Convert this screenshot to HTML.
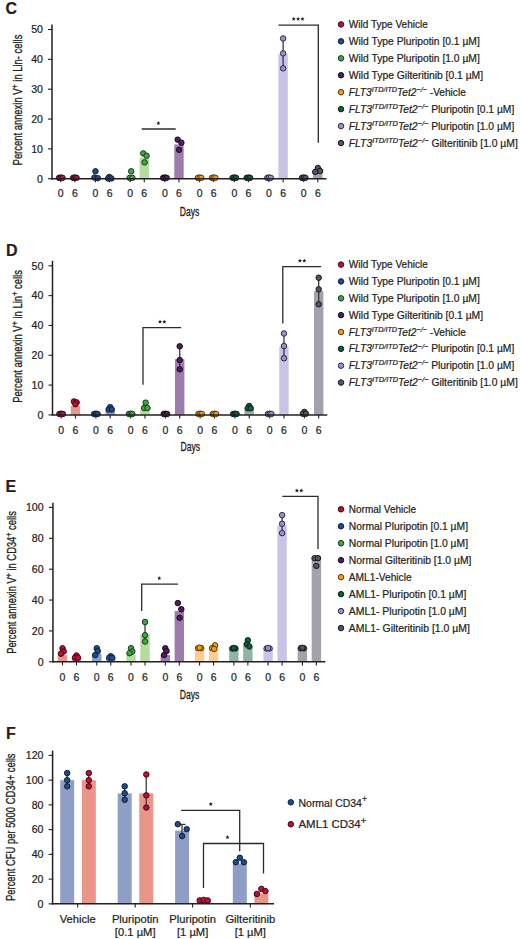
<!DOCTYPE html>
<html><head><meta charset="utf-8"><style>
html,body{margin:0;padding:0;background:#fff;}
svg{display:block;font-family:"Liberation Sans", sans-serif;fill:#231f20;}
text{stroke:#231f20;stroke-width:0.22px;}
text.cd{stroke-width:0.32px;}
</style></head><body>
<svg width="520" height="939" viewBox="0 0 520 939" font-family='"Liberation Sans", sans-serif' fill="#231f20">
<rect width="520" height="939" fill="#fff"/>
<text x="5.60" y="14.20" font-size="16" text-anchor="start" font-weight="bold" font-style="normal" >C</text>
<rect x="56.05" y="178.15" width="9.4" height="0.60" fill="#e8968b"/>
<rect x="70.15" y="178.15" width="9.4" height="0.60" fill="#e8968b"/>
<rect x="90.76" y="177.85" width="9.4" height="0.90" fill="#8d9ec5"/>
<rect x="104.86" y="177.85" width="9.4" height="0.90" fill="#8d9ec5"/>
<rect x="125.47" y="177.85" width="9.4" height="0.90" fill="#b5dba0"/>
<rect x="139.57" y="157.41" width="9.4" height="21.34" fill="#b5dba0"/>
<rect x="160.18" y="178.15" width="9.4" height="0.60" fill="#9d7bad"/>
<rect x="174.28" y="144.42" width="9.4" height="34.33" fill="#9d7bad"/>
<rect x="194.89" y="178.15" width="9.4" height="0.60" fill="#fbcd93"/>
<rect x="208.99" y="178.15" width="9.4" height="0.60" fill="#fbcd93"/>
<rect x="229.60" y="178.15" width="9.4" height="0.60" fill="#93b3a3"/>
<rect x="243.70" y="178.15" width="9.4" height="0.60" fill="#93b3a3"/>
<rect x="264.31" y="178.15" width="9.4" height="0.60" fill="#c8c4e6"/>
<rect x="278.41" y="54.28" width="9.4" height="124.47" fill="#c8c4e6"/>
<rect x="299.02" y="178.15" width="9.4" height="0.60" fill="#a2a2ad"/>
<rect x="313.12" y="172.78" width="9.4" height="5.97" fill="#a2a2ad"/>
<line x1="60.75" y1="178.75" x2="60.75" y2="182.35" stroke="#231f20" stroke-width="1.1"/>
<line x1="74.85" y1="178.75" x2="74.85" y2="182.35" stroke="#231f20" stroke-width="1.1"/>
<line x1="95.46" y1="178.75" x2="95.46" y2="182.35" stroke="#231f20" stroke-width="1.1"/>
<line x1="109.56" y1="178.75" x2="109.56" y2="182.35" stroke="#231f20" stroke-width="1.1"/>
<line x1="130.17" y1="178.75" x2="130.17" y2="182.35" stroke="#231f20" stroke-width="1.1"/>
<line x1="144.27" y1="178.75" x2="144.27" y2="182.35" stroke="#231f20" stroke-width="1.1"/>
<line x1="164.88" y1="178.75" x2="164.88" y2="182.35" stroke="#231f20" stroke-width="1.1"/>
<line x1="178.98" y1="178.75" x2="178.98" y2="182.35" stroke="#231f20" stroke-width="1.1"/>
<line x1="199.59" y1="178.75" x2="199.59" y2="182.35" stroke="#231f20" stroke-width="1.1"/>
<line x1="213.69" y1="178.75" x2="213.69" y2="182.35" stroke="#231f20" stroke-width="1.1"/>
<line x1="234.30" y1="178.75" x2="234.30" y2="182.35" stroke="#231f20" stroke-width="1.1"/>
<line x1="248.40" y1="178.75" x2="248.40" y2="182.35" stroke="#231f20" stroke-width="1.1"/>
<line x1="269.01" y1="178.75" x2="269.01" y2="182.35" stroke="#231f20" stroke-width="1.1"/>
<line x1="283.11" y1="178.75" x2="283.11" y2="182.35" stroke="#231f20" stroke-width="1.1"/>
<line x1="303.72" y1="178.75" x2="303.72" y2="182.35" stroke="#231f20" stroke-width="1.1"/>
<line x1="317.82" y1="178.75" x2="317.82" y2="182.35" stroke="#231f20" stroke-width="1.1"/>
<line x1="283.11" y1="68.31" x2="283.11" y2="38.46" stroke="#3a3a3a" stroke-width="1.3"/>
<circle cx="59.05" cy="177.85" r="2.75" fill="#b8123b" stroke="#3a0812" stroke-width="1.0"/>
<circle cx="60.75" cy="177.56" r="2.75" fill="#b8123b" stroke="#3a0812" stroke-width="1.0"/>
<circle cx="62.45" cy="177.85" r="2.75" fill="#b8123b" stroke="#3a0812" stroke-width="1.0"/>
<circle cx="73.15" cy="177.85" r="2.75" fill="#b8123b" stroke="#3a0812" stroke-width="1.0"/>
<circle cx="74.85" cy="177.56" r="2.75" fill="#b8123b" stroke="#3a0812" stroke-width="1.0"/>
<circle cx="76.55" cy="177.85" r="2.75" fill="#b8123b" stroke="#3a0812" stroke-width="1.0"/>
<circle cx="95.46" cy="171.29" r="2.75" fill="#1f4c86" stroke="#0d1f38" stroke-width="1.0"/>
<circle cx="94.46" cy="177.56" r="2.75" fill="#1f4c86" stroke="#0d1f38" stroke-width="1.0"/>
<circle cx="97.76" cy="178.15" r="2.75" fill="#1f4c86" stroke="#0d1f38" stroke-width="1.0"/>
<circle cx="109.36" cy="176.96" r="2.75" fill="#1f4c86" stroke="#0d1f38" stroke-width="1.0"/>
<circle cx="108.06" cy="178.45" r="2.75" fill="#1f4c86" stroke="#0d1f38" stroke-width="1.0"/>
<circle cx="111.36" cy="178.45" r="2.75" fill="#1f4c86" stroke="#0d1f38" stroke-width="1.0"/>
<circle cx="131.17" cy="171.29" r="2.75" fill="#43a446" stroke="#143a16" stroke-width="1.0"/>
<circle cx="129.67" cy="177.85" r="2.75" fill="#43a446" stroke="#143a16" stroke-width="1.0"/>
<circle cx="132.37" cy="177.85" r="2.75" fill="#43a446" stroke="#143a16" stroke-width="1.0"/>
<circle cx="143.27" cy="153.38" r="2.75" fill="#43a446" stroke="#143a16" stroke-width="1.0"/>
<circle cx="146.57" cy="155.77" r="2.75" fill="#43a446" stroke="#143a16" stroke-width="1.0"/>
<circle cx="144.57" cy="162.33" r="2.75" fill="#43a446" stroke="#143a16" stroke-width="1.0"/>
<circle cx="163.18" cy="177.85" r="2.75" fill="#4b1f57" stroke="#1e0a24" stroke-width="1.0"/>
<circle cx="164.88" cy="177.56" r="2.75" fill="#4b1f57" stroke="#1e0a24" stroke-width="1.0"/>
<circle cx="166.58" cy="177.85" r="2.75" fill="#4b1f57" stroke="#1e0a24" stroke-width="1.0"/>
<circle cx="177.68" cy="139.65" r="2.75" fill="#4b1f57" stroke="#1e0a24" stroke-width="1.0"/>
<circle cx="181.38" cy="142.63" r="2.75" fill="#4b1f57" stroke="#1e0a24" stroke-width="1.0"/>
<circle cx="179.08" cy="149.80" r="2.75" fill="#4b1f57" stroke="#1e0a24" stroke-width="1.0"/>
<circle cx="197.89" cy="177.85" r="2.75" fill="#f29c1c" stroke="#5a3a08" stroke-width="1.0"/>
<circle cx="199.59" cy="177.56" r="2.75" fill="#f29c1c" stroke="#5a3a08" stroke-width="1.0"/>
<circle cx="201.29" cy="177.85" r="2.75" fill="#f29c1c" stroke="#5a3a08" stroke-width="1.0"/>
<circle cx="211.99" cy="177.85" r="2.75" fill="#f29c1c" stroke="#5a3a08" stroke-width="1.0"/>
<circle cx="213.69" cy="177.56" r="2.75" fill="#f29c1c" stroke="#5a3a08" stroke-width="1.0"/>
<circle cx="215.39" cy="177.85" r="2.75" fill="#f29c1c" stroke="#5a3a08" stroke-width="1.0"/>
<circle cx="232.60" cy="177.85" r="2.75" fill="#17583f" stroke="#08261a" stroke-width="1.0"/>
<circle cx="234.30" cy="177.56" r="2.75" fill="#17583f" stroke="#08261a" stroke-width="1.0"/>
<circle cx="236.00" cy="177.85" r="2.75" fill="#17583f" stroke="#08261a" stroke-width="1.0"/>
<circle cx="246.70" cy="177.85" r="2.75" fill="#17583f" stroke="#08261a" stroke-width="1.0"/>
<circle cx="248.40" cy="177.56" r="2.75" fill="#17583f" stroke="#08261a" stroke-width="1.0"/>
<circle cx="250.10" cy="177.85" r="2.75" fill="#17583f" stroke="#08261a" stroke-width="1.0"/>
<circle cx="267.31" cy="177.85" r="2.75" fill="#9893c6" stroke="#2c2850" stroke-width="1.0"/>
<circle cx="269.01" cy="177.56" r="2.75" fill="#9893c6" stroke="#2c2850" stroke-width="1.0"/>
<circle cx="270.71" cy="177.85" r="2.75" fill="#9893c6" stroke="#2c2850" stroke-width="1.0"/>
<circle cx="283.11" cy="38.46" r="2.75" fill="#9893c6" stroke="#2c2850" stroke-width="1.0"/>
<circle cx="283.11" cy="53.38" r="2.75" fill="#9893c6" stroke="#2c2850" stroke-width="1.0"/>
<circle cx="283.11" cy="68.31" r="2.75" fill="#9893c6" stroke="#2c2850" stroke-width="1.0"/>
<circle cx="302.02" cy="177.85" r="2.75" fill="#555562" stroke="#16161c" stroke-width="1.0"/>
<circle cx="303.72" cy="177.56" r="2.75" fill="#555562" stroke="#16161c" stroke-width="1.0"/>
<circle cx="305.42" cy="177.85" r="2.75" fill="#555562" stroke="#16161c" stroke-width="1.0"/>
<circle cx="317.82" cy="168.00" r="2.75" fill="#555562" stroke="#16161c" stroke-width="1.0"/>
<circle cx="315.22" cy="171.88" r="2.75" fill="#555562" stroke="#16161c" stroke-width="1.0"/>
<circle cx="320.12" cy="170.99" r="2.75" fill="#555562" stroke="#16161c" stroke-width="1.0"/>
<line x1="52.00" y1="24.60" x2="52.00" y2="179.45" stroke="#231f20" stroke-width="1.5"/>
<line x1="51.30" y1="178.75" x2="326.50" y2="178.75" stroke="#231f20" stroke-width="1.5"/>
<line x1="48.00" y1="178.75" x2="52.00" y2="178.75" stroke="#231f20" stroke-width="1.1"/>
<text x="43.00" y="182.50" font-size="10.6" text-anchor="end" font-weight="normal" font-style="normal" >0</text>
<line x1="48.00" y1="148.90" x2="52.00" y2="148.90" stroke="#231f20" stroke-width="1.1"/>
<text x="43.00" y="152.65" font-size="10.6" text-anchor="end" font-weight="normal" font-style="normal" >10</text>
<line x1="48.00" y1="119.05" x2="52.00" y2="119.05" stroke="#231f20" stroke-width="1.1"/>
<text x="43.00" y="122.80" font-size="10.6" text-anchor="end" font-weight="normal" font-style="normal" >20</text>
<line x1="48.00" y1="89.20" x2="52.00" y2="89.20" stroke="#231f20" stroke-width="1.1"/>
<text x="43.00" y="92.95" font-size="10.6" text-anchor="end" font-weight="normal" font-style="normal" >30</text>
<line x1="48.00" y1="59.35" x2="52.00" y2="59.35" stroke="#231f20" stroke-width="1.1"/>
<text x="43.00" y="63.10" font-size="10.6" text-anchor="end" font-weight="normal" font-style="normal" >40</text>
<line x1="48.00" y1="29.50" x2="52.00" y2="29.50" stroke="#231f20" stroke-width="1.1"/>
<text x="43.00" y="33.25" font-size="10.6" text-anchor="end" font-weight="normal" font-style="normal" >50</text>
<text x="60.75" y="197.40" font-size="10.5" text-anchor="middle" font-weight="normal" font-style="normal" >0</text>
<text x="74.85" y="197.40" font-size="10.5" text-anchor="middle" font-weight="normal" font-style="normal" >6</text>
<text x="95.46" y="197.40" font-size="10.5" text-anchor="middle" font-weight="normal" font-style="normal" >0</text>
<text x="109.56" y="197.40" font-size="10.5" text-anchor="middle" font-weight="normal" font-style="normal" >6</text>
<text x="130.17" y="197.40" font-size="10.5" text-anchor="middle" font-weight="normal" font-style="normal" >0</text>
<text x="144.27" y="197.40" font-size="10.5" text-anchor="middle" font-weight="normal" font-style="normal" >6</text>
<text x="164.88" y="197.40" font-size="10.5" text-anchor="middle" font-weight="normal" font-style="normal" >0</text>
<text x="178.98" y="197.40" font-size="10.5" text-anchor="middle" font-weight="normal" font-style="normal" >6</text>
<text x="199.59" y="197.40" font-size="10.5" text-anchor="middle" font-weight="normal" font-style="normal" >0</text>
<text x="213.69" y="197.40" font-size="10.5" text-anchor="middle" font-weight="normal" font-style="normal" >6</text>
<text x="234.30" y="197.40" font-size="10.5" text-anchor="middle" font-weight="normal" font-style="normal" >0</text>
<text x="248.40" y="197.40" font-size="10.5" text-anchor="middle" font-weight="normal" font-style="normal" >6</text>
<text x="269.01" y="197.40" font-size="10.5" text-anchor="middle" font-weight="normal" font-style="normal" >0</text>
<text x="283.11" y="197.40" font-size="10.5" text-anchor="middle" font-weight="normal" font-style="normal" >6</text>
<text x="303.72" y="197.40" font-size="10.5" text-anchor="middle" font-weight="normal" font-style="normal" >0</text>
<text x="317.82" y="197.40" font-size="10.5" text-anchor="middle" font-weight="normal" font-style="normal" >6</text>
<text class="cd" x="189.50" y="216.10" font-size="12.5" text-anchor="middle" textLength="19.5" lengthAdjust="spacingAndGlyphs">Days</text>
<text class="cd" transform="translate(21.50,100.00) rotate(-90)" x="0" y="0" font-size="12.5" text-anchor="middle" textLength="130.8" lengthAdjust="spacingAndGlyphs">Percent annexin V<tspan font-size="9.5" dy="-4">+</tspan><tspan dy="4"> in Lin- cells</tspan></text>
<polyline points="141.75,129.00 175.75,129.00" fill="none" stroke="#2b2b2b" stroke-width="1.3"/>
<polygon points="158.40,121.10 158.96,122.53 160.49,122.62 159.30,123.59 159.69,125.08 158.40,124.25 157.11,125.08 157.50,123.59 156.31,122.62 157.84,122.53" fill="#1a1a1a"/>
<polyline points="278.50,25.10 318.30,25.10 318.30,142.70" fill="none" stroke="#2b2b2b" stroke-width="1.3"/>
<polygon points="293.70,16.80 294.26,18.23 295.79,18.32 294.60,19.29 294.99,20.78 293.70,19.95 292.41,20.78 292.80,19.29 291.61,18.32 293.14,18.23" fill="#1a1a1a"/>
<polygon points="298.10,16.80 298.66,18.23 300.19,18.32 299.00,19.29 299.39,20.78 298.10,19.95 296.81,20.78 297.20,19.29 296.01,18.32 297.54,18.23" fill="#1a1a1a"/>
<polygon points="302.50,16.80 303.06,18.23 304.59,18.32 303.40,19.29 303.79,20.78 302.50,19.95 301.21,20.78 301.60,19.29 300.41,18.32 301.94,18.23" fill="#1a1a1a"/>
<circle cx="341.00" cy="24.40" r="2.75" fill="#b8123b" stroke="#3a0812" stroke-width="1.0"/>
<text x="348.80" y="27.90" font-size="10.3" textLength="79" lengthAdjust="spacingAndGlyphs">Wild Type Vehicle</text>
<circle cx="341.00" cy="41.35" r="2.75" fill="#1f4c86" stroke="#0d1f38" stroke-width="1.0"/>
<text x="348.80" y="44.85" font-size="10.3" textLength="131" lengthAdjust="spacingAndGlyphs">Wild Type Pluripotin [0.1 µM]</text>
<circle cx="341.00" cy="58.30" r="2.75" fill="#43a446" stroke="#143a16" stroke-width="1.0"/>
<text x="348.80" y="61.80" font-size="10.3" textLength="131" lengthAdjust="spacingAndGlyphs">Wild Type Pluripotin [1.0 µM]</text>
<circle cx="341.00" cy="75.25" r="2.75" fill="#4b1f57" stroke="#1e0a24" stroke-width="1.0"/>
<text x="348.80" y="78.75" font-size="10.3" textLength="134.3" lengthAdjust="spacingAndGlyphs">Wild Type Gilteritinib [0.1 µM]</text>
<circle cx="341.00" cy="92.20" r="2.75" fill="#f29c1c" stroke="#5a3a08" stroke-width="1.0"/>
<text x="348.80" y="95.70" font-size="10.3" textLength="117" lengthAdjust="spacingAndGlyphs"><tspan font-style="italic">FLT3</tspan><tspan font-style="italic" font-size="7.4" dy="-3.8">ITD/ITD</tspan><tspan font-style="italic" dy="3.8">Tet2</tspan><tspan font-style="italic" font-size="7.4" dy="-3.8">−/−</tspan><tspan dy="3.8"> -Vehicle</tspan></text>
<circle cx="341.00" cy="109.15" r="2.75" fill="#17583f" stroke="#08261a" stroke-width="1.0"/>
<text x="348.80" y="112.65" font-size="10.3" textLength="165.5" lengthAdjust="spacingAndGlyphs"><tspan font-style="italic">FLT3</tspan><tspan font-style="italic" font-size="7.4" dy="-3.8">ITD/ITD</tspan><tspan font-style="italic" dy="3.8">Tet2</tspan><tspan font-style="italic" font-size="7.4" dy="-3.8">−/−</tspan><tspan dy="3.8"> Pluripotin [0.1 µM]</tspan></text>
<circle cx="341.00" cy="126.10" r="2.75" fill="#9893c6" stroke="#2c2850" stroke-width="1.0"/>
<text x="348.80" y="129.60" font-size="10.3" textLength="165.5" lengthAdjust="spacingAndGlyphs"><tspan font-style="italic">FLT3</tspan><tspan font-style="italic" font-size="7.4" dy="-3.8">ITD/ITD</tspan><tspan font-style="italic" dy="3.8">Tet2</tspan><tspan font-style="italic" font-size="7.4" dy="-3.8">−/−</tspan><tspan dy="3.8"> Pluripotin [1.0 µM]</tspan></text>
<circle cx="341.00" cy="143.05" r="2.75" fill="#555562" stroke="#16161c" stroke-width="1.0"/>
<text x="348.80" y="146.55" font-size="10.3" textLength="169" lengthAdjust="spacingAndGlyphs"><tspan font-style="italic">FLT3</tspan><tspan font-style="italic" font-size="7.4" dy="-3.8">ITD/ITD</tspan><tspan font-style="italic" dy="3.8">Tet2</tspan><tspan font-style="italic" font-size="7.4" dy="-3.8">−/−</tspan><tspan dy="3.8"> Gilteritinib [1.0 µM]</tspan></text>
<text x="5.90" y="256.00" font-size="16" text-anchor="start" font-weight="bold" font-style="normal" >D</text>
<rect x="56.45" y="414.30" width="9.4" height="0.60" fill="#e8968b"/>
<rect x="70.75" y="405.95" width="9.4" height="8.95" fill="#e8968b"/>
<rect x="91.20" y="414.30" width="9.4" height="0.60" fill="#8d9ec5"/>
<rect x="105.50" y="410.73" width="9.4" height="4.17" fill="#8d9ec5"/>
<rect x="125.95" y="414.01" width="9.4" height="0.89" fill="#b5dba0"/>
<rect x="140.25" y="410.13" width="9.4" height="4.77" fill="#b5dba0"/>
<rect x="160.70" y="414.30" width="9.4" height="0.60" fill="#9d7bad"/>
<rect x="175.00" y="359.14" width="9.4" height="55.76" fill="#9d7bad"/>
<rect x="195.45" y="414.30" width="9.4" height="0.60" fill="#fbcd93"/>
<rect x="209.75" y="414.01" width="9.4" height="0.89" fill="#fbcd93"/>
<rect x="230.20" y="414.30" width="9.4" height="0.60" fill="#93b3a3"/>
<rect x="244.50" y="408.94" width="9.4" height="5.96" fill="#93b3a3"/>
<rect x="264.95" y="414.30" width="9.4" height="0.60" fill="#c8c4e6"/>
<rect x="279.25" y="346.61" width="9.4" height="68.29" fill="#c8c4e6"/>
<rect x="299.70" y="414.01" width="9.4" height="0.89" fill="#a2a2ad"/>
<rect x="314.00" y="291.15" width="9.4" height="123.75" fill="#a2a2ad"/>
<line x1="61.15" y1="414.90" x2="61.15" y2="418.50" stroke="#231f20" stroke-width="1.1"/>
<line x1="75.45" y1="414.90" x2="75.45" y2="418.50" stroke="#231f20" stroke-width="1.1"/>
<line x1="95.90" y1="414.90" x2="95.90" y2="418.50" stroke="#231f20" stroke-width="1.1"/>
<line x1="110.20" y1="414.90" x2="110.20" y2="418.50" stroke="#231f20" stroke-width="1.1"/>
<line x1="130.65" y1="414.90" x2="130.65" y2="418.50" stroke="#231f20" stroke-width="1.1"/>
<line x1="144.95" y1="414.90" x2="144.95" y2="418.50" stroke="#231f20" stroke-width="1.1"/>
<line x1="165.40" y1="414.90" x2="165.40" y2="418.50" stroke="#231f20" stroke-width="1.1"/>
<line x1="179.70" y1="414.90" x2="179.70" y2="418.50" stroke="#231f20" stroke-width="1.1"/>
<line x1="200.15" y1="414.90" x2="200.15" y2="418.50" stroke="#231f20" stroke-width="1.1"/>
<line x1="214.45" y1="414.90" x2="214.45" y2="418.50" stroke="#231f20" stroke-width="1.1"/>
<line x1="234.90" y1="414.90" x2="234.90" y2="418.50" stroke="#231f20" stroke-width="1.1"/>
<line x1="249.20" y1="414.90" x2="249.20" y2="418.50" stroke="#231f20" stroke-width="1.1"/>
<line x1="269.65" y1="414.90" x2="269.65" y2="418.50" stroke="#231f20" stroke-width="1.1"/>
<line x1="283.95" y1="414.90" x2="283.95" y2="418.50" stroke="#231f20" stroke-width="1.1"/>
<line x1="304.40" y1="414.90" x2="304.40" y2="418.50" stroke="#231f20" stroke-width="1.1"/>
<line x1="318.70" y1="414.90" x2="318.70" y2="418.50" stroke="#231f20" stroke-width="1.1"/>
<line x1="179.70" y1="369.28" x2="179.70" y2="346.31" stroke="#3a3a3a" stroke-width="1.3"/>
<line x1="283.95" y1="358.24" x2="283.95" y2="333.49" stroke="#3a3a3a" stroke-width="1.3"/>
<line x1="318.70" y1="304.27" x2="318.70" y2="277.73" stroke="#3a3a3a" stroke-width="1.3"/>
<circle cx="59.45" cy="414.01" r="2.75" fill="#b8123b" stroke="#3a0812" stroke-width="1.0"/>
<circle cx="61.15" cy="413.71" r="2.75" fill="#b8123b" stroke="#3a0812" stroke-width="1.0"/>
<circle cx="62.85" cy="414.01" r="2.75" fill="#b8123b" stroke="#3a0812" stroke-width="1.0"/>
<circle cx="73.95" cy="401.48" r="2.75" fill="#b8123b" stroke="#3a0812" stroke-width="1.0"/>
<circle cx="76.65" cy="402.38" r="2.75" fill="#b8123b" stroke="#3a0812" stroke-width="1.0"/>
<circle cx="75.45" cy="404.16" r="2.75" fill="#b8123b" stroke="#3a0812" stroke-width="1.0"/>
<circle cx="94.20" cy="414.01" r="2.75" fill="#1f4c86" stroke="#0d1f38" stroke-width="1.0"/>
<circle cx="95.90" cy="413.71" r="2.75" fill="#1f4c86" stroke="#0d1f38" stroke-width="1.0"/>
<circle cx="97.60" cy="414.01" r="2.75" fill="#1f4c86" stroke="#0d1f38" stroke-width="1.0"/>
<circle cx="110.20" cy="407.15" r="2.75" fill="#1f4c86" stroke="#0d1f38" stroke-width="1.0"/>
<circle cx="108.60" cy="409.53" r="2.75" fill="#1f4c86" stroke="#0d1f38" stroke-width="1.0"/>
<circle cx="111.80" cy="409.53" r="2.75" fill="#1f4c86" stroke="#0d1f38" stroke-width="1.0"/>
<circle cx="128.95" cy="414.01" r="2.75" fill="#43a446" stroke="#143a16" stroke-width="1.0"/>
<circle cx="130.65" cy="413.71" r="2.75" fill="#43a446" stroke="#143a16" stroke-width="1.0"/>
<circle cx="132.35" cy="414.01" r="2.75" fill="#43a446" stroke="#143a16" stroke-width="1.0"/>
<circle cx="145.65" cy="402.67" r="2.75" fill="#43a446" stroke="#143a16" stroke-width="1.0"/>
<circle cx="144.15" cy="408.04" r="2.75" fill="#43a446" stroke="#143a16" stroke-width="1.0"/>
<circle cx="147.45" cy="408.04" r="2.75" fill="#43a446" stroke="#143a16" stroke-width="1.0"/>
<circle cx="163.70" cy="414.01" r="2.75" fill="#4b1f57" stroke="#1e0a24" stroke-width="1.0"/>
<circle cx="165.40" cy="413.71" r="2.75" fill="#4b1f57" stroke="#1e0a24" stroke-width="1.0"/>
<circle cx="167.10" cy="414.01" r="2.75" fill="#4b1f57" stroke="#1e0a24" stroke-width="1.0"/>
<circle cx="179.70" cy="346.31" r="2.75" fill="#4b1f57" stroke="#1e0a24" stroke-width="1.0"/>
<circle cx="179.70" cy="360.03" r="2.75" fill="#4b1f57" stroke="#1e0a24" stroke-width="1.0"/>
<circle cx="179.70" cy="369.28" r="2.75" fill="#4b1f57" stroke="#1e0a24" stroke-width="1.0"/>
<circle cx="198.45" cy="414.01" r="2.75" fill="#f29c1c" stroke="#5a3a08" stroke-width="1.0"/>
<circle cx="200.15" cy="413.71" r="2.75" fill="#f29c1c" stroke="#5a3a08" stroke-width="1.0"/>
<circle cx="201.85" cy="414.01" r="2.75" fill="#f29c1c" stroke="#5a3a08" stroke-width="1.0"/>
<circle cx="212.75" cy="414.01" r="2.75" fill="#f29c1c" stroke="#5a3a08" stroke-width="1.0"/>
<circle cx="214.45" cy="413.71" r="2.75" fill="#f29c1c" stroke="#5a3a08" stroke-width="1.0"/>
<circle cx="216.15" cy="414.01" r="2.75" fill="#f29c1c" stroke="#5a3a08" stroke-width="1.0"/>
<circle cx="233.20" cy="414.01" r="2.75" fill="#17583f" stroke="#08261a" stroke-width="1.0"/>
<circle cx="234.90" cy="413.71" r="2.75" fill="#17583f" stroke="#08261a" stroke-width="1.0"/>
<circle cx="236.60" cy="414.01" r="2.75" fill="#17583f" stroke="#08261a" stroke-width="1.0"/>
<circle cx="249.20" cy="405.95" r="2.75" fill="#17583f" stroke="#08261a" stroke-width="1.0"/>
<circle cx="247.70" cy="408.34" r="2.75" fill="#17583f" stroke="#08261a" stroke-width="1.0"/>
<circle cx="250.70" cy="408.34" r="2.75" fill="#17583f" stroke="#08261a" stroke-width="1.0"/>
<circle cx="267.95" cy="414.01" r="2.75" fill="#9893c6" stroke="#2c2850" stroke-width="1.0"/>
<circle cx="269.65" cy="413.71" r="2.75" fill="#9893c6" stroke="#2c2850" stroke-width="1.0"/>
<circle cx="271.35" cy="414.01" r="2.75" fill="#9893c6" stroke="#2c2850" stroke-width="1.0"/>
<circle cx="283.95" cy="333.49" r="2.75" fill="#9893c6" stroke="#2c2850" stroke-width="1.0"/>
<circle cx="283.95" cy="346.02" r="2.75" fill="#9893c6" stroke="#2c2850" stroke-width="1.0"/>
<circle cx="283.95" cy="358.24" r="2.75" fill="#9893c6" stroke="#2c2850" stroke-width="1.0"/>
<circle cx="304.40" cy="411.92" r="2.75" fill="#555562" stroke="#16161c" stroke-width="1.0"/>
<circle cx="302.90" cy="413.71" r="2.75" fill="#555562" stroke="#16161c" stroke-width="1.0"/>
<circle cx="305.90" cy="413.71" r="2.75" fill="#555562" stroke="#16161c" stroke-width="1.0"/>
<circle cx="318.70" cy="277.73" r="2.75" fill="#555562" stroke="#16161c" stroke-width="1.0"/>
<circle cx="318.70" cy="289.36" r="2.75" fill="#555562" stroke="#16161c" stroke-width="1.0"/>
<circle cx="318.70" cy="304.27" r="2.75" fill="#555562" stroke="#16161c" stroke-width="1.0"/>
<line x1="52.50" y1="260.80" x2="52.50" y2="415.60" stroke="#231f20" stroke-width="1.5"/>
<line x1="51.80" y1="414.90" x2="327.30" y2="414.90" stroke="#231f20" stroke-width="1.5"/>
<line x1="48.50" y1="414.90" x2="52.50" y2="414.90" stroke="#231f20" stroke-width="1.1"/>
<text x="43.40" y="418.65" font-size="10.6" text-anchor="end" font-weight="normal" font-style="normal" >0</text>
<line x1="48.50" y1="385.08" x2="52.50" y2="385.08" stroke="#231f20" stroke-width="1.1"/>
<text x="43.40" y="388.83" font-size="10.6" text-anchor="end" font-weight="normal" font-style="normal" >10</text>
<line x1="48.50" y1="355.26" x2="52.50" y2="355.26" stroke="#231f20" stroke-width="1.1"/>
<text x="43.40" y="359.01" font-size="10.6" text-anchor="end" font-weight="normal" font-style="normal" >20</text>
<line x1="48.50" y1="325.44" x2="52.50" y2="325.44" stroke="#231f20" stroke-width="1.1"/>
<text x="43.40" y="329.19" font-size="10.6" text-anchor="end" font-weight="normal" font-style="normal" >40</text>
<line x1="48.50" y1="295.62" x2="52.50" y2="295.62" stroke="#231f20" stroke-width="1.1"/>
<text x="43.40" y="299.37" font-size="10.6" text-anchor="end" font-weight="normal" font-style="normal" >40</text>
<line x1="48.50" y1="265.80" x2="52.50" y2="265.80" stroke="#231f20" stroke-width="1.1"/>
<text x="43.40" y="269.55" font-size="10.6" text-anchor="end" font-weight="normal" font-style="normal" >50</text>
<text x="61.15" y="433.70" font-size="10.5" text-anchor="middle" font-weight="normal" font-style="normal" >0</text>
<text x="75.45" y="433.70" font-size="10.5" text-anchor="middle" font-weight="normal" font-style="normal" >6</text>
<text x="95.90" y="433.70" font-size="10.5" text-anchor="middle" font-weight="normal" font-style="normal" >0</text>
<text x="110.20" y="433.70" font-size="10.5" text-anchor="middle" font-weight="normal" font-style="normal" >6</text>
<text x="130.65" y="433.70" font-size="10.5" text-anchor="middle" font-weight="normal" font-style="normal" >0</text>
<text x="144.95" y="433.70" font-size="10.5" text-anchor="middle" font-weight="normal" font-style="normal" >6</text>
<text x="165.40" y="433.70" font-size="10.5" text-anchor="middle" font-weight="normal" font-style="normal" >0</text>
<text x="179.70" y="433.70" font-size="10.5" text-anchor="middle" font-weight="normal" font-style="normal" >6</text>
<text x="200.15" y="433.70" font-size="10.5" text-anchor="middle" font-weight="normal" font-style="normal" >0</text>
<text x="214.45" y="433.70" font-size="10.5" text-anchor="middle" font-weight="normal" font-style="normal" >6</text>
<text x="234.90" y="433.70" font-size="10.5" text-anchor="middle" font-weight="normal" font-style="normal" >0</text>
<text x="249.20" y="433.70" font-size="10.5" text-anchor="middle" font-weight="normal" font-style="normal" >6</text>
<text x="269.65" y="433.70" font-size="10.5" text-anchor="middle" font-weight="normal" font-style="normal" >0</text>
<text x="283.95" y="433.70" font-size="10.5" text-anchor="middle" font-weight="normal" font-style="normal" >6</text>
<text x="304.40" y="433.70" font-size="10.5" text-anchor="middle" font-weight="normal" font-style="normal" >0</text>
<text x="318.70" y="433.70" font-size="10.5" text-anchor="middle" font-weight="normal" font-style="normal" >6</text>
<text class="cd" x="190.30" y="451.40" font-size="12.5" text-anchor="middle" textLength="19.5" lengthAdjust="spacingAndGlyphs">Days</text>
<text class="cd" transform="translate(21.90,336.40) rotate(-90)" x="0" y="0" font-size="12.5" text-anchor="middle" textLength="132.7" lengthAdjust="spacingAndGlyphs">Percent annexin V<tspan font-size="9.5" dy="-4">+</tspan><tspan dy="4"> in Lin</tspan><tspan font-size="9.5" dy="-4">+</tspan><tspan dy="4"> cells</tspan></text>
<polyline points="143.00,384.80 143.00,327.60 181.10,327.60" fill="none" stroke="#2b2b2b" stroke-width="1.3"/>
<polygon points="160.00,319.50 160.56,320.93 162.09,321.02 160.90,321.99 161.29,323.48 160.00,322.65 158.71,323.48 159.10,321.99 157.91,321.02 159.44,320.93" fill="#1a1a1a"/>
<polygon points="164.30,319.50 164.86,320.93 166.39,321.02 165.20,321.99 165.59,323.48 164.30,322.65 163.01,323.48 163.40,321.99 162.21,321.02 163.74,320.93" fill="#1a1a1a"/>
<polyline points="282.80,323.50 282.80,266.70 321.10,266.70" fill="none" stroke="#2b2b2b" stroke-width="1.3"/>
<polygon points="299.90,258.50 300.46,259.93 301.99,260.02 300.80,260.99 301.19,262.48 299.90,261.65 298.61,262.48 299.00,260.99 297.81,260.02 299.34,259.93" fill="#1a1a1a"/>
<polygon points="304.30,258.50 304.86,259.93 306.39,260.02 305.20,260.99 305.59,262.48 304.30,261.65 303.01,262.48 303.40,260.99 302.21,260.02 303.74,259.93" fill="#1a1a1a"/>
<circle cx="341.00" cy="264.60" r="2.75" fill="#b8123b" stroke="#3a0812" stroke-width="1.0"/>
<text x="348.80" y="268.10" font-size="10.3" textLength="79" lengthAdjust="spacingAndGlyphs">Wild Type Vehicle</text>
<circle cx="341.00" cy="281.45" r="2.75" fill="#1f4c86" stroke="#0d1f38" stroke-width="1.0"/>
<text x="348.80" y="284.95" font-size="10.3" textLength="131" lengthAdjust="spacingAndGlyphs">Wild Type Pluripotin [0.1 µM]</text>
<circle cx="341.00" cy="298.30" r="2.75" fill="#43a446" stroke="#143a16" stroke-width="1.0"/>
<text x="348.80" y="301.80" font-size="10.3" textLength="131" lengthAdjust="spacingAndGlyphs">Wild Type Pluripotin [1.0 µM]</text>
<circle cx="341.00" cy="315.15" r="2.75" fill="#4b1f57" stroke="#1e0a24" stroke-width="1.0"/>
<text x="348.80" y="318.65" font-size="10.3" textLength="134.3" lengthAdjust="spacingAndGlyphs">Wild Type Gilteritinib [0.1 µM]</text>
<circle cx="341.00" cy="332.00" r="2.75" fill="#f29c1c" stroke="#5a3a08" stroke-width="1.0"/>
<text x="348.80" y="335.50" font-size="10.3" textLength="117" lengthAdjust="spacingAndGlyphs"><tspan font-style="italic">FLT3</tspan><tspan font-style="italic" font-size="7.4" dy="-3.8">ITD/ITD</tspan><tspan font-style="italic" dy="3.8">Tet2</tspan><tspan font-style="italic" font-size="7.4" dy="-3.8">−/−</tspan><tspan dy="3.8"> -Vehicle</tspan></text>
<circle cx="341.00" cy="348.85" r="2.75" fill="#17583f" stroke="#08261a" stroke-width="1.0"/>
<text x="348.80" y="352.35" font-size="10.3" textLength="165.5" lengthAdjust="spacingAndGlyphs"><tspan font-style="italic">FLT3</tspan><tspan font-style="italic" font-size="7.4" dy="-3.8">ITD/ITD</tspan><tspan font-style="italic" dy="3.8">Tet2</tspan><tspan font-style="italic" font-size="7.4" dy="-3.8">−/−</tspan><tspan dy="3.8"> Pluripotin [0.1 µM]</tspan></text>
<circle cx="341.00" cy="365.70" r="2.75" fill="#9893c6" stroke="#2c2850" stroke-width="1.0"/>
<text x="348.80" y="369.20" font-size="10.3" textLength="165.5" lengthAdjust="spacingAndGlyphs"><tspan font-style="italic">FLT3</tspan><tspan font-style="italic" font-size="7.4" dy="-3.8">ITD/ITD</tspan><tspan font-style="italic" dy="3.8">Tet2</tspan><tspan font-style="italic" font-size="7.4" dy="-3.8">−/−</tspan><tspan dy="3.8"> Pluripotin [1.0 µM]</tspan></text>
<circle cx="341.00" cy="382.55" r="2.75" fill="#555562" stroke="#16161c" stroke-width="1.0"/>
<text x="348.80" y="386.05" font-size="10.3" textLength="169" lengthAdjust="spacingAndGlyphs"><tspan font-style="italic">FLT3</tspan><tspan font-style="italic" font-size="7.4" dy="-3.8">ITD/ITD</tspan><tspan font-style="italic" dy="3.8">Tet2</tspan><tspan font-style="italic" font-size="7.4" dy="-3.8">−/−</tspan><tspan dy="3.8"> Gilteritinib [1.0 µM]</tspan></text>
<text x="5.60" y="491.90" font-size="16" text-anchor="start" font-weight="bold" font-style="normal" >E</text>
<rect x="57.80" y="655.05" width="9.4" height="6.75" fill="#e8968b"/>
<rect x="71.80" y="657.66" width="9.4" height="4.14" fill="#e8968b"/>
<rect x="92.07" y="653.67" width="9.4" height="8.13" fill="#8d9ec5"/>
<rect x="106.07" y="657.66" width="9.4" height="4.14" fill="#8d9ec5"/>
<rect x="126.34" y="654.28" width="9.4" height="7.52" fill="#b5dba0"/>
<rect x="140.34" y="634.75" width="9.4" height="27.05" fill="#b5dba0"/>
<rect x="160.61" y="655.05" width="9.4" height="6.75" fill="#9d7bad"/>
<rect x="174.61" y="611.08" width="9.4" height="50.72" fill="#9d7bad"/>
<rect x="194.88" y="647.36" width="9.4" height="14.44" fill="#fbcd93"/>
<rect x="208.88" y="647.36" width="9.4" height="14.44" fill="#fbcd93"/>
<rect x="229.15" y="648.13" width="9.4" height="13.67" fill="#93b3a3"/>
<rect x="243.15" y="645.82" width="9.4" height="15.98" fill="#93b3a3"/>
<rect x="263.42" y="647.82" width="9.4" height="13.98" fill="#c8c4e6"/>
<rect x="277.42" y="525.29" width="9.4" height="136.51" fill="#c8c4e6"/>
<rect x="297.69" y="648.13" width="9.4" height="13.67" fill="#a2a2ad"/>
<rect x="311.69" y="558.19" width="9.4" height="103.61" fill="#a2a2ad"/>
<line x1="62.50" y1="661.80" x2="62.50" y2="665.40" stroke="#231f20" stroke-width="1.1"/>
<line x1="76.50" y1="661.80" x2="76.50" y2="665.40" stroke="#231f20" stroke-width="1.1"/>
<line x1="96.77" y1="661.80" x2="96.77" y2="665.40" stroke="#231f20" stroke-width="1.1"/>
<line x1="110.77" y1="661.80" x2="110.77" y2="665.40" stroke="#231f20" stroke-width="1.1"/>
<line x1="131.04" y1="661.80" x2="131.04" y2="665.40" stroke="#231f20" stroke-width="1.1"/>
<line x1="145.04" y1="661.80" x2="145.04" y2="665.40" stroke="#231f20" stroke-width="1.1"/>
<line x1="165.31" y1="661.80" x2="165.31" y2="665.40" stroke="#231f20" stroke-width="1.1"/>
<line x1="179.31" y1="661.80" x2="179.31" y2="665.40" stroke="#231f20" stroke-width="1.1"/>
<line x1="199.58" y1="661.80" x2="199.58" y2="665.40" stroke="#231f20" stroke-width="1.1"/>
<line x1="213.58" y1="661.80" x2="213.58" y2="665.40" stroke="#231f20" stroke-width="1.1"/>
<line x1="233.85" y1="661.80" x2="233.85" y2="665.40" stroke="#231f20" stroke-width="1.1"/>
<line x1="247.85" y1="661.80" x2="247.85" y2="665.40" stroke="#231f20" stroke-width="1.1"/>
<line x1="268.12" y1="661.80" x2="268.12" y2="665.40" stroke="#231f20" stroke-width="1.1"/>
<line x1="282.12" y1="661.80" x2="282.12" y2="665.40" stroke="#231f20" stroke-width="1.1"/>
<line x1="302.39" y1="661.80" x2="302.39" y2="665.40" stroke="#231f20" stroke-width="1.1"/>
<line x1="316.39" y1="661.80" x2="316.39" y2="665.40" stroke="#231f20" stroke-width="1.1"/>
<line x1="145.04" y1="641.52" x2="145.04" y2="621.99" stroke="#3a3a3a" stroke-width="1.3"/>
<line x1="282.12" y1="533.13" x2="282.12" y2="515.14" stroke="#3a3a3a" stroke-width="1.3"/>
<circle cx="62.50" cy="648.28" r="2.75" fill="#b8123b" stroke="#3a0812" stroke-width="1.0"/>
<circle cx="63.70" cy="651.51" r="2.75" fill="#b8123b" stroke="#3a0812" stroke-width="1.0"/>
<circle cx="61.00" cy="653.67" r="2.75" fill="#b8123b" stroke="#3a0812" stroke-width="1.0"/>
<circle cx="76.50" cy="655.51" r="2.75" fill="#b8123b" stroke="#3a0812" stroke-width="1.0"/>
<circle cx="75.00" cy="657.66" r="2.75" fill="#b8123b" stroke="#3a0812" stroke-width="1.0"/>
<circle cx="78.00" cy="657.66" r="2.75" fill="#b8123b" stroke="#3a0812" stroke-width="1.0"/>
<circle cx="96.77" cy="648.28" r="2.75" fill="#1f4c86" stroke="#0d1f38" stroke-width="1.0"/>
<circle cx="97.77" cy="651.05" r="2.75" fill="#1f4c86" stroke="#0d1f38" stroke-width="1.0"/>
<circle cx="95.27" cy="655.05" r="2.75" fill="#1f4c86" stroke="#0d1f38" stroke-width="1.0"/>
<circle cx="110.77" cy="656.28" r="2.75" fill="#1f4c86" stroke="#0d1f38" stroke-width="1.0"/>
<circle cx="109.27" cy="657.66" r="2.75" fill="#1f4c86" stroke="#0d1f38" stroke-width="1.0"/>
<circle cx="112.27" cy="657.66" r="2.75" fill="#1f4c86" stroke="#0d1f38" stroke-width="1.0"/>
<circle cx="131.04" cy="648.28" r="2.75" fill="#43a446" stroke="#143a16" stroke-width="1.0"/>
<circle cx="132.34" cy="651.51" r="2.75" fill="#43a446" stroke="#143a16" stroke-width="1.0"/>
<circle cx="129.54" cy="653.20" r="2.75" fill="#43a446" stroke="#143a16" stroke-width="1.0"/>
<circle cx="145.04" cy="621.99" r="2.75" fill="#43a446" stroke="#143a16" stroke-width="1.0"/>
<circle cx="145.04" cy="635.22" r="2.75" fill="#43a446" stroke="#143a16" stroke-width="1.0"/>
<circle cx="145.04" cy="641.52" r="2.75" fill="#43a446" stroke="#143a16" stroke-width="1.0"/>
<circle cx="165.31" cy="648.28" r="2.75" fill="#4b1f57" stroke="#1e0a24" stroke-width="1.0"/>
<circle cx="166.51" cy="651.05" r="2.75" fill="#4b1f57" stroke="#1e0a24" stroke-width="1.0"/>
<circle cx="164.11" cy="655.05" r="2.75" fill="#4b1f57" stroke="#1e0a24" stroke-width="1.0"/>
<circle cx="177.81" cy="603.08" r="2.75" fill="#4b1f57" stroke="#1e0a24" stroke-width="1.0"/>
<circle cx="181.31" cy="609.23" r="2.75" fill="#4b1f57" stroke="#1e0a24" stroke-width="1.0"/>
<circle cx="179.61" cy="617.84" r="2.75" fill="#4b1f57" stroke="#1e0a24" stroke-width="1.0"/>
<circle cx="198.08" cy="648.13" r="2.75" fill="#f29c1c" stroke="#5a3a08" stroke-width="1.0"/>
<circle cx="201.08" cy="648.13" r="2.75" fill="#f29c1c" stroke="#5a3a08" stroke-width="1.0"/>
<circle cx="199.58" cy="647.67" r="2.75" fill="#f29c1c" stroke="#5a3a08" stroke-width="1.0"/>
<circle cx="215.08" cy="645.36" r="2.75" fill="#f29c1c" stroke="#5a3a08" stroke-width="1.0"/>
<circle cx="212.08" cy="648.13" r="2.75" fill="#f29c1c" stroke="#5a3a08" stroke-width="1.0"/>
<circle cx="214.08" cy="648.90" r="2.75" fill="#f29c1c" stroke="#5a3a08" stroke-width="1.0"/>
<circle cx="232.35" cy="648.44" r="2.75" fill="#17583f" stroke="#08261a" stroke-width="1.0"/>
<circle cx="235.35" cy="648.44" r="2.75" fill="#17583f" stroke="#08261a" stroke-width="1.0"/>
<circle cx="233.85" cy="647.98" r="2.75" fill="#17583f" stroke="#08261a" stroke-width="1.0"/>
<circle cx="247.85" cy="640.29" r="2.75" fill="#17583f" stroke="#08261a" stroke-width="1.0"/>
<circle cx="246.65" cy="644.29" r="2.75" fill="#17583f" stroke="#08261a" stroke-width="1.0"/>
<circle cx="249.35" cy="646.44" r="2.75" fill="#17583f" stroke="#08261a" stroke-width="1.0"/>
<circle cx="266.62" cy="648.44" r="2.75" fill="#9893c6" stroke="#2c2850" stroke-width="1.0"/>
<circle cx="269.62" cy="648.44" r="2.75" fill="#9893c6" stroke="#2c2850" stroke-width="1.0"/>
<circle cx="268.12" cy="647.98" r="2.75" fill="#9893c6" stroke="#2c2850" stroke-width="1.0"/>
<circle cx="282.12" cy="515.14" r="2.75" fill="#9893c6" stroke="#2c2850" stroke-width="1.0"/>
<circle cx="282.12" cy="523.75" r="2.75" fill="#9893c6" stroke="#2c2850" stroke-width="1.0"/>
<circle cx="282.12" cy="533.13" r="2.75" fill="#9893c6" stroke="#2c2850" stroke-width="1.0"/>
<circle cx="300.89" cy="648.28" r="2.75" fill="#555562" stroke="#16161c" stroke-width="1.0"/>
<circle cx="303.89" cy="648.28" r="2.75" fill="#555562" stroke="#16161c" stroke-width="1.0"/>
<circle cx="302.39" cy="647.82" r="2.75" fill="#555562" stroke="#16161c" stroke-width="1.0"/>
<circle cx="314.59" cy="558.19" r="2.75" fill="#555562" stroke="#16161c" stroke-width="1.0"/>
<circle cx="317.99" cy="558.19" r="2.75" fill="#555562" stroke="#16161c" stroke-width="1.0"/>
<circle cx="316.39" cy="565.88" r="2.75" fill="#555562" stroke="#16161c" stroke-width="1.0"/>
<line x1="52.95" y1="502.80" x2="52.95" y2="662.50" stroke="#231f20" stroke-width="1.5"/>
<line x1="52.25" y1="661.80" x2="325.30" y2="661.80" stroke="#231f20" stroke-width="1.5"/>
<line x1="48.95" y1="661.80" x2="52.95" y2="661.80" stroke="#231f20" stroke-width="1.1"/>
<text x="43.60" y="665.55" font-size="10.6" text-anchor="end" font-weight="normal" font-style="normal" >0</text>
<line x1="48.95" y1="630.93" x2="52.95" y2="630.93" stroke="#231f20" stroke-width="1.1"/>
<text x="43.60" y="634.68" font-size="10.6" text-anchor="end" font-weight="normal" font-style="normal" >20</text>
<line x1="48.95" y1="600.06" x2="52.95" y2="600.06" stroke="#231f20" stroke-width="1.1"/>
<text x="43.60" y="603.81" font-size="10.6" text-anchor="end" font-weight="normal" font-style="normal" >40</text>
<line x1="48.95" y1="569.19" x2="52.95" y2="569.19" stroke="#231f20" stroke-width="1.1"/>
<text x="43.60" y="572.94" font-size="10.6" text-anchor="end" font-weight="normal" font-style="normal" >60</text>
<line x1="48.95" y1="538.32" x2="52.95" y2="538.32" stroke="#231f20" stroke-width="1.1"/>
<text x="43.60" y="542.07" font-size="10.6" text-anchor="end" font-weight="normal" font-style="normal" >80</text>
<line x1="48.95" y1="507.45" x2="52.95" y2="507.45" stroke="#231f20" stroke-width="1.1"/>
<text x="43.60" y="511.20" font-size="10.6" text-anchor="end" font-weight="normal" font-style="normal" >100</text>
<text x="62.50" y="680.60" font-size="10.5" text-anchor="middle" font-weight="normal" font-style="normal" >0</text>
<text x="76.50" y="680.60" font-size="10.5" text-anchor="middle" font-weight="normal" font-style="normal" >6</text>
<text x="96.77" y="680.60" font-size="10.5" text-anchor="middle" font-weight="normal" font-style="normal" >0</text>
<text x="110.77" y="680.60" font-size="10.5" text-anchor="middle" font-weight="normal" font-style="normal" >6</text>
<text x="131.04" y="680.60" font-size="10.5" text-anchor="middle" font-weight="normal" font-style="normal" >0</text>
<text x="145.04" y="680.60" font-size="10.5" text-anchor="middle" font-weight="normal" font-style="normal" >6</text>
<text x="165.31" y="680.60" font-size="10.5" text-anchor="middle" font-weight="normal" font-style="normal" >0</text>
<text x="179.31" y="680.60" font-size="10.5" text-anchor="middle" font-weight="normal" font-style="normal" >6</text>
<text x="199.58" y="680.60" font-size="10.5" text-anchor="middle" font-weight="normal" font-style="normal" >0</text>
<text x="213.58" y="680.60" font-size="10.5" text-anchor="middle" font-weight="normal" font-style="normal" >6</text>
<text x="233.85" y="680.60" font-size="10.5" text-anchor="middle" font-weight="normal" font-style="normal" >0</text>
<text x="247.85" y="680.60" font-size="10.5" text-anchor="middle" font-weight="normal" font-style="normal" >6</text>
<text x="268.12" y="680.60" font-size="10.5" text-anchor="middle" font-weight="normal" font-style="normal" >0</text>
<text x="282.12" y="680.60" font-size="10.5" text-anchor="middle" font-weight="normal" font-style="normal" >6</text>
<text x="302.39" y="680.60" font-size="10.5" text-anchor="middle" font-weight="normal" font-style="normal" >0</text>
<text x="316.39" y="680.60" font-size="10.5" text-anchor="middle" font-weight="normal" font-style="normal" >6</text>
<text class="cd" x="189.60" y="698.80" font-size="12.5" text-anchor="middle" textLength="19.5" lengthAdjust="spacingAndGlyphs">Days</text>
<text class="cd" transform="translate(15.90,582.50) rotate(-90)" x="0" y="0" font-size="12.5" text-anchor="middle" textLength="142.7" lengthAdjust="spacingAndGlyphs">Percent annexin V<tspan font-size="9.5" dy="-4">+</tspan><tspan dy="4"> in CD34</tspan><tspan font-size="9.5" dy="-4">+</tspan><tspan dy="4"> cells</tspan></text>
<polyline points="141.70,611.10 141.70,584.20 178.00,584.20" fill="none" stroke="#2b2b2b" stroke-width="1.3"/>
<polygon points="159.30,576.10 159.86,577.53 161.39,577.62 160.20,578.59 160.59,580.08 159.30,579.25 158.01,580.08 158.40,578.59 157.21,577.62 158.74,577.53" fill="#1a1a1a"/>
<polyline points="282.30,496.40 318.00,496.40 318.00,549.10" fill="none" stroke="#2b2b2b" stroke-width="1.3"/>
<polygon points="296.90,488.40 297.46,489.83 298.99,489.92 297.80,490.89 298.19,492.38 296.90,491.55 295.61,492.38 296.00,490.89 294.81,489.92 296.34,489.83" fill="#1a1a1a"/>
<polygon points="301.30,488.40 301.86,489.83 303.39,489.92 302.20,490.89 302.59,492.38 301.30,491.55 300.01,492.38 300.40,490.89 299.21,489.92 300.74,489.83" fill="#1a1a1a"/>
<circle cx="341.00" cy="509.30" r="2.75" fill="#b8123b" stroke="#3a0812" stroke-width="1.0"/>
<text x="348.80" y="512.80" font-size="10.3" textLength="67.2" lengthAdjust="spacingAndGlyphs">Normal Vehicle</text>
<circle cx="341.00" cy="526.27" r="2.75" fill="#1f4c86" stroke="#0d1f38" stroke-width="1.0"/>
<text x="348.80" y="529.77" font-size="10.3" textLength="119.2" lengthAdjust="spacingAndGlyphs">Normal Pluripotin [0.1 µM]</text>
<circle cx="341.00" cy="543.24" r="2.75" fill="#43a446" stroke="#143a16" stroke-width="1.0"/>
<text x="348.80" y="546.74" font-size="10.3" textLength="119.2" lengthAdjust="spacingAndGlyphs">Normal Pluripotin [1.0 µM]</text>
<circle cx="341.00" cy="560.21" r="2.75" fill="#4b1f57" stroke="#1e0a24" stroke-width="1.0"/>
<text x="348.80" y="563.71" font-size="10.3" textLength="122.6" lengthAdjust="spacingAndGlyphs">Normal Gilteritinib [1.0 µM]</text>
<circle cx="341.00" cy="577.18" r="2.75" fill="#f29c1c" stroke="#5a3a08" stroke-width="1.0"/>
<text x="348.80" y="580.68" font-size="10.3" textLength="62.8" lengthAdjust="spacingAndGlyphs">AML1-Vehicle</text>
<circle cx="341.00" cy="594.15" r="2.75" fill="#17583f" stroke="#08261a" stroke-width="1.0"/>
<text x="348.80" y="597.65" font-size="10.3" textLength="117.6" lengthAdjust="spacingAndGlyphs">AML1- Pluripotin [0.1 µM]</text>
<circle cx="341.00" cy="611.12" r="2.75" fill="#9893c6" stroke="#2c2850" stroke-width="1.0"/>
<text x="348.80" y="614.62" font-size="10.3" textLength="117.6" lengthAdjust="spacingAndGlyphs">AML1- Pluripotin [1.0 µM]</text>
<circle cx="341.00" cy="628.09" r="2.75" fill="#555562" stroke="#16161c" stroke-width="1.0"/>
<text x="348.80" y="631.59" font-size="10.3" textLength="121.1" lengthAdjust="spacingAndGlyphs">AML1- Gilteritinib [1.0 µM]</text>
<text x="5.90" y="738.80" font-size="16" text-anchor="start" font-weight="bold" font-style="normal" >F</text>
<rect x="60.20" y="780.15" width="14.0" height="123.70" fill="#8e9ec4"/>
<rect x="81.80" y="780.15" width="14.0" height="123.70" fill="#e9958a"/>
<rect x="117.70" y="793.39" width="14.0" height="110.46" fill="#8e9ec4"/>
<rect x="139.30" y="793.39" width="14.0" height="110.46" fill="#e9958a"/>
<rect x="175.10" y="830.62" width="14.0" height="73.23" fill="#8e9ec4"/>
<rect x="196.70" y="900.76" width="14.0" height="3.09" fill="#e9958a"/>
<rect x="232.80" y="863.52" width="14.0" height="40.33" fill="#8e9ec4"/>
<rect x="254.40" y="893.46" width="14.0" height="10.39" fill="#e9958a"/>
<line x1="146.25" y1="774.46" x2="146.25" y2="807.61" stroke="#3a3a3a" stroke-width="1.3"/>
<line x1="67.10" y1="773.10" x2="67.10" y2="786.34" stroke="#3a3a3a" stroke-width="1.3"/>
<line x1="88.70" y1="773.10" x2="88.70" y2="786.34" stroke="#3a3a3a" stroke-width="1.3"/>
<line x1="124.60" y1="786.34" x2="124.60" y2="799.82" stroke="#3a3a3a" stroke-width="1.3"/>
<line x1="182.00" y1="824.43" x2="182.00" y2="836.43" stroke="#3a3a3a" stroke-width="1.3"/>
<line x1="178.50" y1="824.43" x2="185.50" y2="824.43" stroke="#3a3a3a" stroke-width="1.3"/>
<circle cx="67.20" cy="773.10" r="2.75" fill="#1f4c86" stroke="#0d1f38" stroke-width="1.0"/>
<circle cx="67.20" cy="780.15" r="2.75" fill="#1f4c86" stroke="#0d1f38" stroke-width="1.0"/>
<circle cx="67.20" cy="786.34" r="2.75" fill="#1f4c86" stroke="#0d1f38" stroke-width="1.0"/>
<circle cx="88.80" cy="773.10" r="2.75" fill="#b8123b" stroke="#3a0812" stroke-width="1.0"/>
<circle cx="88.80" cy="780.15" r="2.75" fill="#b8123b" stroke="#3a0812" stroke-width="1.0"/>
<circle cx="88.80" cy="786.34" r="2.75" fill="#b8123b" stroke="#3a0812" stroke-width="1.0"/>
<circle cx="124.70" cy="786.34" r="2.75" fill="#1f4c86" stroke="#0d1f38" stroke-width="1.0"/>
<circle cx="124.70" cy="793.26" r="2.75" fill="#1f4c86" stroke="#0d1f38" stroke-width="1.0"/>
<circle cx="124.70" cy="799.82" r="2.75" fill="#1f4c86" stroke="#0d1f38" stroke-width="1.0"/>
<circle cx="146.30" cy="774.46" r="2.75" fill="#b8123b" stroke="#3a0812" stroke-width="1.0"/>
<circle cx="146.30" cy="795.37" r="2.75" fill="#b8123b" stroke="#3a0812" stroke-width="1.0"/>
<circle cx="146.30" cy="807.49" r="2.75" fill="#b8123b" stroke="#3a0812" stroke-width="1.0"/>
<circle cx="177.80" cy="824.19" r="2.75" fill="#1f4c86" stroke="#0d1f38" stroke-width="1.0"/>
<circle cx="186.70" cy="829.14" r="2.75" fill="#1f4c86" stroke="#0d1f38" stroke-width="1.0"/>
<circle cx="182.10" cy="836.06" r="2.75" fill="#1f4c86" stroke="#0d1f38" stroke-width="1.0"/>
<circle cx="199.70" cy="900.39" r="2.75" fill="#b8123b" stroke="#3a0812" stroke-width="1.0"/>
<circle cx="203.70" cy="899.89" r="2.75" fill="#b8123b" stroke="#3a0812" stroke-width="1.0"/>
<circle cx="207.70" cy="900.39" r="2.75" fill="#b8123b" stroke="#3a0812" stroke-width="1.0"/>
<circle cx="235.80" cy="862.16" r="2.75" fill="#1f4c86" stroke="#0d1f38" stroke-width="1.0"/>
<circle cx="239.80" cy="857.71" r="2.75" fill="#1f4c86" stroke="#0d1f38" stroke-width="1.0"/>
<circle cx="243.80" cy="862.16" r="2.75" fill="#1f4c86" stroke="#0d1f38" stroke-width="1.0"/>
<circle cx="256.90" cy="893.95" r="2.75" fill="#b8123b" stroke="#3a0812" stroke-width="1.0"/>
<circle cx="261.40" cy="888.88" r="2.75" fill="#b8123b" stroke="#3a0812" stroke-width="1.0"/>
<circle cx="265.40" cy="891.11" r="2.75" fill="#b8123b" stroke="#3a0812" stroke-width="1.0"/>
<line x1="52.60" y1="750.60" x2="52.60" y2="904.55" stroke="#231f20" stroke-width="1.5"/>
<line x1="51.90" y1="903.85" x2="274.00" y2="903.85" stroke="#231f20" stroke-width="1.5"/>
<line x1="48.60" y1="903.85" x2="52.60" y2="903.85" stroke="#231f20" stroke-width="1.1"/>
<text x="43.50" y="907.60" font-size="10.6" text-anchor="end" font-weight="normal" font-style="normal" >0</text>
<line x1="48.60" y1="879.11" x2="52.60" y2="879.11" stroke="#231f20" stroke-width="1.1"/>
<text x="43.50" y="882.86" font-size="10.6" text-anchor="end" font-weight="normal" font-style="normal" >20</text>
<line x1="48.60" y1="854.37" x2="52.60" y2="854.37" stroke="#231f20" stroke-width="1.1"/>
<text x="43.50" y="858.12" font-size="10.6" text-anchor="end" font-weight="normal" font-style="normal" >40</text>
<line x1="48.60" y1="829.63" x2="52.60" y2="829.63" stroke="#231f20" stroke-width="1.1"/>
<text x="43.50" y="833.38" font-size="10.6" text-anchor="end" font-weight="normal" font-style="normal" >60</text>
<line x1="48.60" y1="804.89" x2="52.60" y2="804.89" stroke="#231f20" stroke-width="1.1"/>
<text x="43.50" y="808.64" font-size="10.6" text-anchor="end" font-weight="normal" font-style="normal" >80</text>
<line x1="48.60" y1="780.15" x2="52.60" y2="780.15" stroke="#231f20" stroke-width="1.1"/>
<text x="43.50" y="783.90" font-size="10.6" text-anchor="end" font-weight="normal" font-style="normal" >100</text>
<line x1="48.60" y1="755.41" x2="52.60" y2="755.41" stroke="#231f20" stroke-width="1.1"/>
<text x="43.50" y="759.16" font-size="10.6" text-anchor="end" font-weight="normal" font-style="normal" >120</text>
<line x1="77.70" y1="903.85" x2="77.70" y2="907.45" stroke="#231f20" stroke-width="1.1"/>
<line x1="135.20" y1="903.85" x2="135.20" y2="907.45" stroke="#231f20" stroke-width="1.1"/>
<line x1="192.60" y1="903.85" x2="192.60" y2="907.45" stroke="#231f20" stroke-width="1.1"/>
<line x1="250.30" y1="903.85" x2="250.30" y2="907.45" stroke="#231f20" stroke-width="1.1"/>
<text x="77.70" y="922.50" font-size="11.2" text-anchor="middle" font-weight="normal" font-style="normal" >Vehicle</text>
<text x="135.20" y="922.50" font-size="11.2" text-anchor="middle" font-weight="normal" font-style="normal" >Pluripotin</text>
<text x="135.20" y="935.50" font-size="11.2" text-anchor="middle" font-weight="normal" font-style="normal" >[0.1 µM]</text>
<text x="192.60" y="922.50" font-size="11.2" text-anchor="middle" font-weight="normal" font-style="normal" >Pluripotin</text>
<text x="192.60" y="935.50" font-size="11.2" text-anchor="middle" font-weight="normal" font-style="normal" >[1 µM]</text>
<text x="250.30" y="922.50" font-size="11.2" text-anchor="middle" font-weight="normal" font-style="normal" >Gilteritinib</text>
<text x="250.30" y="935.50" font-size="11.2" text-anchor="middle" font-weight="normal" font-style="normal" >[1 µM]</text>
<text class="cd" transform="translate(15.40,827.20) rotate(-90)" x="0" y="0" font-size="12.5" text-anchor="middle" textLength="147.5" lengthAdjust="spacingAndGlyphs">Percent CFU per 5000 CD34+ cells</text>
<polyline points="181.10,810.30 239.70,810.30 239.70,851.20" fill="none" stroke="#2b2b2b" stroke-width="1.3"/>
<polygon points="210.80,801.90 211.36,803.33 212.89,803.42 211.70,804.39 212.09,805.88 210.80,805.05 209.51,805.88 209.90,804.39 208.71,803.42 210.24,803.33" fill="#1a1a1a"/>
<polyline points="203.50,888.00 203.50,843.50 263.50,843.50 263.50,873.50" fill="none" stroke="#2b2b2b" stroke-width="1.3"/>
<polygon points="227.50,835.00 228.06,836.43 229.59,836.52 228.40,837.49 228.79,838.98 227.50,838.15 226.21,838.98 226.60,837.49 225.41,836.52 226.94,836.43" fill="#1a1a1a"/>
<circle cx="290.80" cy="802.30" r="2.75" fill="#1f4c86" stroke="#0d1f38" stroke-width="1.0"/>
<circle cx="290.80" cy="824.20" r="2.75" fill="#b8123b" stroke="#3a0812" stroke-width="1.0"/>
<text x="298.5" y="806.5" font-size="10.8" textLength="68.5" lengthAdjust="spacingAndGlyphs">Normal CD34<tspan font-size="9" dy="-4.5">+</tspan></text>
<text x="298.5" y="828.4" font-size="10.8" textLength="67.8" lengthAdjust="spacingAndGlyphs">AML1 CD34<tspan font-size="9" dy="-4.5">+</tspan></text>
</svg></body></html>
